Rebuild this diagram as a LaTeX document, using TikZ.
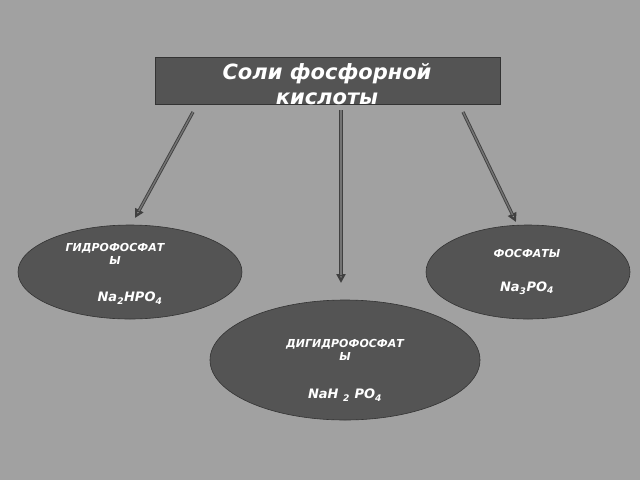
\documentclass[tikz,border=0pt]{standalone}
\usepackage{fontspec}
\setmainfont{DejaVu Sans}
\usetikzlibrary{shapes.geometric,arrows.meta}
\begin{document}
\begin{tikzpicture}[x=1pt,y=-1pt,
  oval/.style={ellipse,draw=black!80,fill=black!67,line width=0.6pt},
  lbl/.style={text=white,font=\bfseries\itshape\fontsize{11}{13}\selectfont,align=center},
  frm/.style={text=white,font=\bfseries\itshape\fontsize{13}{15}\selectfont},
  arr/.style={draw=black!75,line width=3.2pt,-{Triangle[open,length=9pt,width=9pt]}},
  arrin/.style={draw=black!55,line width=1.4pt,shorten >=8pt}]
\fill[black!37] (0,0) rectangle (640,480);
\useasboundingbox (0,0) rectangle (640,480);
\node[draw=black!80,fill=black!67,minimum width=345pt,minimum height=47pt,anchor=north west] (title) at (155,57) {};
\node[text=white,font=\bfseries\itshape\fontsize{21}{25}\selectfont,align=center] at (327,84) {Соли фосфорной\\кислоты};
\node[oval,minimum width=224pt,minimum height=94pt] (l) at (130,272) {};
\node[oval,minimum width=204pt,minimum height=94pt] (r) at (528,272) {};
\node[oval,minimum width=270pt,minimum height=120pt] (b) at (345,360) {};
\node[lbl] at (115,254) {ГИДРОФОСФАТ\\Ы};
\node[frm] at (130,298) {Na\textsubscript{2}HPO\textsubscript{4}};
\node[lbl] at (527,253) {ФОСФАТЫ};
\node[frm] at (527,288) {Na\textsubscript{3}PO\textsubscript{4}};
\node[lbl] at (345,350) {ДИГИДРОФОСФАТ\\Ы};
\node[frm] at (345,395) {NaH \textsubscript{2} PO\textsubscript{4}};
\coordinate (a1) at (193,112); \coordinate (e1) at (135,218);
\coordinate (a2) at (341,110); \coordinate (e2) at (341,283);
\coordinate (a3) at (463,112); \coordinate (e3) at (516,222);
\foreach \s/\e in {a1/e1,a2/e2,a3/e3}{
  \draw[arr] (\s) -- (\e);
  \draw[arrin] (\s) -- (\e);
}
\end{tikzpicture}
\end{document}
